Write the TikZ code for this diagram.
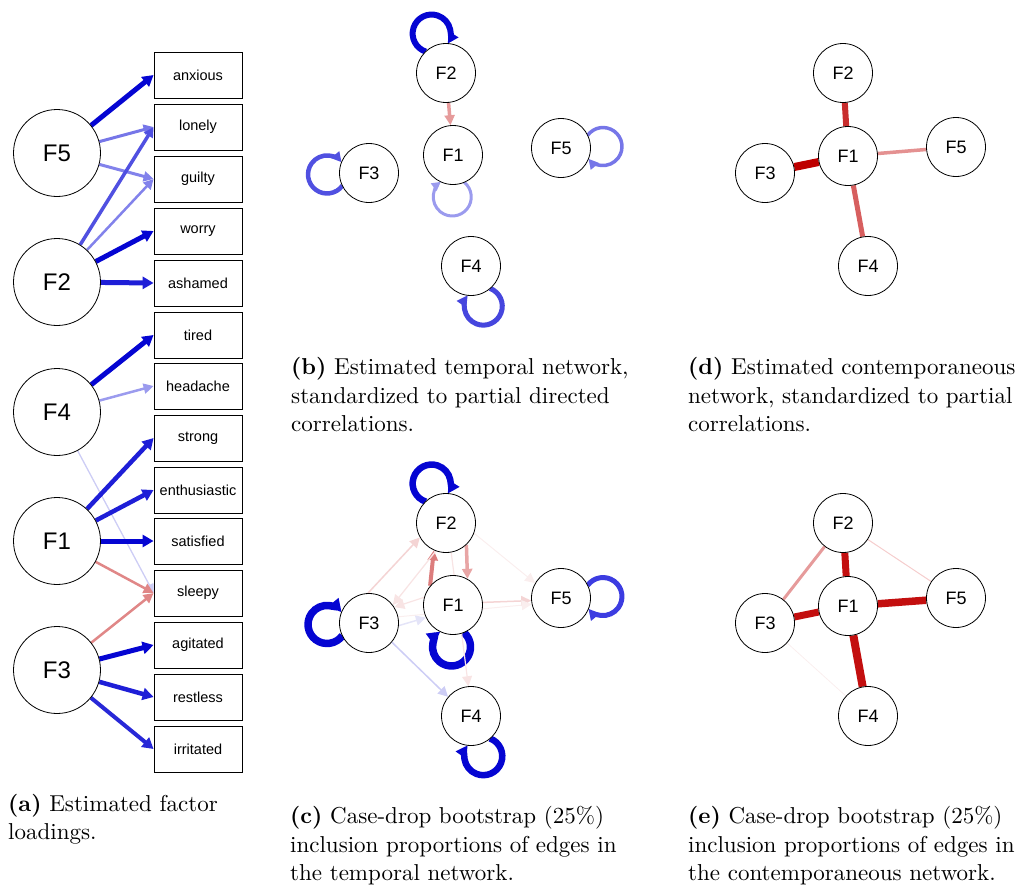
\documentclass[tikz,border=0pt]{standalone}
\usepackage{fontspec}
\setmainfont{Liberation Sans}
\newfontfamily\capfont{lmroman10-regular}[Extension=.otf, BoldFont=lmroman10-bold]
\usetikzlibrary{arrows.meta,calc,backgrounds}
\definecolor{bA}{RGB}{5,5,210}
\definecolor{bB}{RGB}{30,30,215}
\definecolor{bC}{RGB}{80,80,225}
\definecolor{bD}{RGB}{118,118,232}
\definecolor{bE}{RGB}{155,155,238}
\definecolor{bF}{RGB}{205,205,245}
\definecolor{bG}{RGB}{228,228,248}
\definecolor{bH}{RGB}{130,130,235}
\definecolor{bI}{RGB}{40,40,215}
\definecolor{bJ}{RGB}{70,70,222}
\definecolor{bK}{RGB}{60,60,225}
\definecolor{rA}{RGB}{190,0,0}
\definecolor{rB}{RGB}{200,45,45}
\definecolor{rC}{RGB}{215,95,95}
\definecolor{rD}{RGB}{224,135,135}
\definecolor{rE}{RGB}{230,155,155}
\definecolor{rF}{RGB}{244,212,212}
\definecolor{rG}{RGB}{248,228,228}
\definecolor{rH}{RGB}{250,238,238}
\definecolor{rI}{RGB}{220,125,125}
\definecolor{rJ}{RGB}{232,165,165}
\definecolor{rK}{RGB}{228,145,145}
\definecolor{rL}{RGB}{195,15,15}
\definecolor{rM}{RGB}{245,205,205}
\newcommand\qloop[5]{\draw[line width=#3, color=#4, -{Triangle[length=#5, width=#5]}] ($(#1)+(#2:42)+({#2+142}:19)$) arc[start angle={#2+142}, end angle={#2-142}, radius=19];}
\tikzset{
  lat/.style={circle, draw, fill=white, minimum size=87pt, inner sep=0pt, line width=0.8pt, font=\fontsize{24}{24}\selectfont},
  obs/.style={rectangle, draw, fill=white, minimum width=88pt, minimum height=46pt, inner sep=0pt, line width=0.8pt, font=\fontsize{14.5}{14.5}\selectfont},
  fac/.style={circle, draw, fill=white, minimum size=59pt, inner sep=0pt, line width=0.8pt, font=\fontsize{18}{18}\selectfont},
  captext/.style={anchor=base west, inner sep=0pt, font=\capfont\fontsize{23}{28}\selectfont},
  ar/.style={-{Triangle[length=11pt, width=12pt]}},
  ars/.style={-{Triangle[length=10pt, width=10pt]}},
  art/.style={-{Triangle[length=9pt, width=9pt]}},
}
\begin{document}
\begin{tikzpicture}[x=1pt, y=1pt]
\useasboundingbox (0,0) rectangle (1015,-886);
% ---------- panel (a)
\node[lat] (aF5) at (57,-153) {F5};
\node[lat] (aF2) at (57,-282) {F2};
\node[lat] (aF4) at (57,-412) {F4};
\node[lat] (aF1) at (57,-541) {F1};
\node[lat] (aF3) at (57,-670) {F3};
\node[obs] (anxious) at (198,-75) {anxious};
\node[obs] (lonely) at (198,-127) {lonely};
\node[obs] (guilty) at (198,-179) {guilty};
\node[obs] (worry) at (198,-231) {worry};
\node[obs] (ashamed) at (198,-283) {ashamed};
\node[obs] (tired) at (198,-335) {tired};
\node[obs] (headache) at (198,-386) {headache};
\node[obs] (strong) at (198,-438) {strong};
\node[obs] (enthusiastic) at (198,-490) {enthusiastic};
\node[obs] (satisfied) at (198,-541) {satisfied};
\node[obs] (sleepy) at (198,-593) {sleepy};
\node[obs] (agitated) at (198,-645) {agitated};
\node[obs] (restless) at (198,-697) {restless};
\node[obs] (irritated) at (198,-749) {irritated};
\begin{scope}[on background layer]
\draw[ar, line width=5pt, bA] (aF5) -- (anxious.west);
\draw[ars, line width=3pt, bD] (aF5) -- (lonely.west);
\draw[ars, line width=3pt, bH] (aF5) -- (guilty.west);
\draw[ars, line width=3.5pt, bC] (aF2) -- (lonely.west);
\draw[ars, line width=2.5pt, bH] (aF2) -- (guilty.west);
\draw[ar, line width=5pt, bA] (aF2) -- (worry.west);
\draw[ar, line width=5pt, bB] (aF2) -- (ashamed.west);
\draw[ar, line width=5pt, bA] (aF4) -- (tired.west);
\draw[ars, line width=2.5pt, bE] (aF4) -- (headache.west);
\draw[art, line width=1.3pt, bF] (aF4) -- (sleepy.west);
\draw[ar, line width=4.5pt, bB] (aF1) -- (strong.west);
\draw[ar, line width=4.5pt, bB] (aF1) -- (enthusiastic.west);
\draw[ar, line width=5pt, bA] (aF1) -- (satisfied.west);
\draw[ars, line width=2.5pt, rD] (aF1) -- (sleepy.west);
\draw[ars, line width=2.5pt, rD] (aF3) -- (sleepy.west);
\draw[ar, line width=5pt, bA] (aF3) -- (agitated.west);
\draw[ar, line width=4.5pt, bB] (aF3) -- (restless.west);
\draw[ar, line width=4pt, bI] (aF3) -- (irritated.west);
\end{scope}
% ---------- panel (b)
\node[fac] (bF2) at (446,-73) {F2};
\node[fac] (bF1) at (453,-155) {F1};
\node[fac] (bF5) at (561,-148) {F5};
\node[fac] (bF3) at (369,-173) {F3};
\node[fac] (bF4) at (471,-266) {F4};
\begin{scope}[on background layer]
\qloop{bF2}{110}{6pt}{bA}{11pt}
\qloop{bF1}{-91}{3pt}{bE}{9pt}
\qloop{bF3}{182}{4.5pt}{bC}{10pt}
\qloop{bF5}{2}{3.5pt}{bD}{10pt}
\qloop{bF4}{-73}{5pt}{bJ}{11pt}
\draw[ars, line width=3.5pt, rE] (bF2) -- (bF1);
\end{scope}
% ---------- panel (c)
\node[fac] (cF2) at (446,-523) {F2};
\node[fac] (cF1) at (453,-605) {F1};
\node[fac] (cF5) at (561,-598) {F5};
\node[fac] (cF3) at (369,-623) {F3};
\node[fac] (cF4) at (471,-716) {F4};
\begin{scope}[on background layer]
\qloop{cF2}{110}{6.5pt}{bA}{12pt}
\qloop{cF1}{-92}{7.5pt}{bA}{13pt}
\qloop{cF3}{182}{7.5pt}{bA}{13pt}
\qloop{cF5}{2}{5pt}{bK}{11pt}
\qloop{cF4}{-73}{6.5pt}{bA}{12pt}
\draw[ars, line width=4pt, rI] (cF1.140) -- (cF2.246);
\draw[ars, line width=3.5pt, rJ] (cF2.313) -- (cF1.61);
\draw[ars, line width=1.5pt, rF] (cF3.92) -- (cF2.209);
\draw[ars, line width=1.3pt, rG] (cF2.250) -- (cF3.37);
\draw[ars, line width=1.2pt, rG] (cF1.165) -- (cF3.32);
\draw[ars, line width=1pt, rH] (cF2.-20) -- (cF5.150);
\draw[ars, line width=1.5pt, rF] (cF1.5) -- (cF5.185);
\draw[ars, line width=1pt, rH] (cF3.12) -- (cF5.192);
\draw[ars, line width=1.5pt, bG] (cF3.-5) -- (cF1.205);
\draw[ars, line width=1.5pt, bF] (cF3.-40) -- (cF4.140);
\draw[ars, line width=1.2pt, rG] (cF2.-80) -- (cF4.95);
\end{scope}
% ---------- panel (d)
\node[fac] (dF2) at (843,-73) {F2};
\node[fac] (dF1) at (848,-156) {F1};
\node[fac] (dF5) at (956,-147) {F5};
\node[fac] (dF3) at (765,-173) {F3};
\node[fac] (dF4) at (868,-266) {F4};
\begin{scope}[on background layer]
\draw[line width=6pt, rB] (dF1) -- (dF2);
\draw[line width=8pt, rA] (dF1) -- (dF3);
\draw[line width=3.5pt, rK] (dF1) -- (dF5);
\draw[line width=5pt, rC] (dF1) -- (dF4);
\end{scope}
% ---------- panel (e)
\node[fac] (eF2) at (843,-523) {F2};
\node[fac] (eF1) at (848,-606) {F1};
\node[fac] (eF5) at (956,-598) {F5};
\node[fac] (eF3) at (765,-623) {F3};
\node[fac] (eF4) at (868,-716) {F4};
\begin{scope}[on background layer]
\draw[line width=7pt, rL] (eF1) -- (eF2);
\draw[line width=7pt, rL] (eF1) -- (eF3);
\draw[line width=7.5pt, rL] (eF1) -- (eF5);
\draw[line width=8pt, rL] (eF1) -- (eF4);
\draw[line width=3pt, rE] (eF2) -- (eF3);
\draw[line width=1pt, rM] (eF2) -- (eF5);
\draw[line width=0.8pt, rH] (eF3) -- (eF4);
\end{scope}
% ---------- captions
\node[captext] (ca1) at (8,-811) {\textbf{(a)} Estimated factor};
\node[captext] (ca2) at (8,-839) {loadings.};
\node[captext] (cb1) at (291,-374) {\textbf{(b)} Estimated temporal network,};
\node[captext] (cb2) at (291,-403) {standardized to partial directed};
\node[captext] (cb3) at (291,-431) {correlations.};
\node[captext] (cd1) at (688,-374) {\textbf{(d)} Estimated contemporaneous};
\node[captext] (cd2) at (688,-403) {network, standardized to partial};
\node[captext] (cd3) at (688,-431) {correlations.};
\node[captext] (cc1) at (290,-823) {\textbf{(c)} Case-drop bootstrap (25\%)};
\node[captext] (cc2) at (290,-852) {inclusion proportions of edges in};
\node[captext] (cc3) at (290,-880) {the temporal network.};
\node[captext] (ce1) at (688,-823) {\textbf{(e)} Case-drop bootstrap (25\%)};
\node[captext] (ce2) at (688,-852) {inclusion proportions of edges in};
\node[captext] (ce3) at (688,-880) {the contemporaneous network.};
\end{tikzpicture}
\end{document}
